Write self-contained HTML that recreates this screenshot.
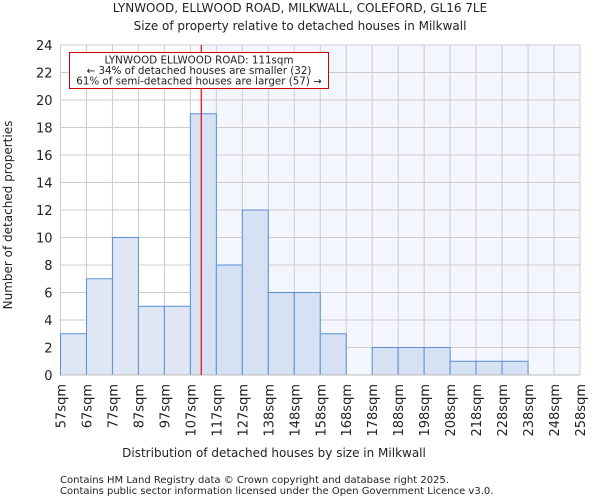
<!DOCTYPE html>
<html><head><meta charset="utf-8"><style>
body{margin:0;background:#fff;font-family:"DejaVu Sans","Liberation Sans",sans-serif}
svg text{font-family:"DejaVu Sans","Liberation Sans",sans-serif;fill:#222}
</style></head><body>
<svg id="c" width="600" height="500">
<text x="300" y="12" text-anchor="middle" font-size="12">LYNWOOD, ELLWOOD ROAD, MILKWALL, COLEFORD, GL16 7LE</text>
<text x="300" y="30" text-anchor="middle" font-size="12">Size of property relative to detached houses in Milkwall</text>
<g id="plot"></g>
<text x="274" y="457" text-anchor="middle" font-size="12">Distribution of detached houses by size in Milkwall</text>
<text transform="translate(12,215) rotate(-90)" text-anchor="middle" font-size="12">Number of detached properties</text>
<text x="60" y="483" font-size="10">Contains HM Land Registry data © Crown copyright and database right 2025.</text>
<text x="60" y="494" font-size="10">Contains public sector information licensed under the Open Government Licence v3.0.</text>
</svg>
<script>
const binLabels=["57sqm","67sqm","77sqm","87sqm","97sqm","107sqm","117sqm","127sqm","138sqm","148sqm","158sqm","168sqm","178sqm","188sqm","198sqm","208sqm","218sqm","228sqm","238sqm","248sqm","258sqm"];
const counts=[3,7,10,5,5,19,8,12,6,6,3,0,2,2,2,1,1,1,0,0];
const yTicks=[0,2,4,6,8,10,12,14,16,18,20,22,24];
const markerBin=5.42;
const X0=60.5,X1=580,Y0=375,Y1=45,YMAX=24;
const bw=(X1-X0)/counts.length;
const x=i=>X0+i*bw, y=v=>Y0-(Y0-Y1)*v/YMAX;
const g=document.getElementById('plot'),NS="http://www.w3.org/2000/svg";
function mk(t,a,p){const e=document.createElementNS(NS,t);for(const k in a)e.setAttribute(k,a[k]);(p||g).appendChild(e);return e;}
const mx=x(markerBin);
let bg=mk('rect',{x:mx,y:Y1,width:X1-mx,height:Y0-Y1,fill:'#f3f6fd'});


yTicks.forEach(t=>{const l=mk('line',{x1:X0,x2:X1,y1:y(t),y2:y(t),stroke:'#ccc'});


const tx=mk('text',{x:X0-8,y:y(t)+5,'text-anchor':'end','font-size':13});tx.textContent=t;

});
binLabels.forEach((b,i)=>{const l=mk('line',{x1:x(i),x2:x(i),y1:Y1,y2:Y0,stroke:'#ccc'});


const tx=mk('text',{transform:`translate(${x(i)+5},384) rotate(-90)`,'text-anchor':'end','font-size':13});tx.textContent=b;

});
counts.forEach((c,i)=>{if(!c)return;const r=mk('rect',{x:x(i),y:y(c),width:bw,height:Y0-y(c),fill:(i+0.5)<markerBin?'#dfe7f5':'#d6e1f3',stroke:'#5b8fd6','stroke-width':1});

});
let ax=mk('line',{x1:X0,x2:X1,y1:Y0,y2:Y0,stroke:'#bbb'});


let ml=mk('line',{x1:mx,x2:mx,y1:Y1,y2:Y0,stroke:'#e00','stroke-width':1.2});


let box=mk('rect',{x:69.5,y:52.5,width:259,height:36,fill:'#fff',stroke:'#c00'});


["LYNWOOD ELLWOOD ROAD: 111sqm","← 34% of detached houses are smaller (32)","61% of semi-detached houses are larger (57) →"].forEach((s,i)=>{const t=mk('text',{x:199,y:63.5+i*10.5,'text-anchor':'middle','font-size':10.3});t.textContent=s;

});
</script>
</body></html>
